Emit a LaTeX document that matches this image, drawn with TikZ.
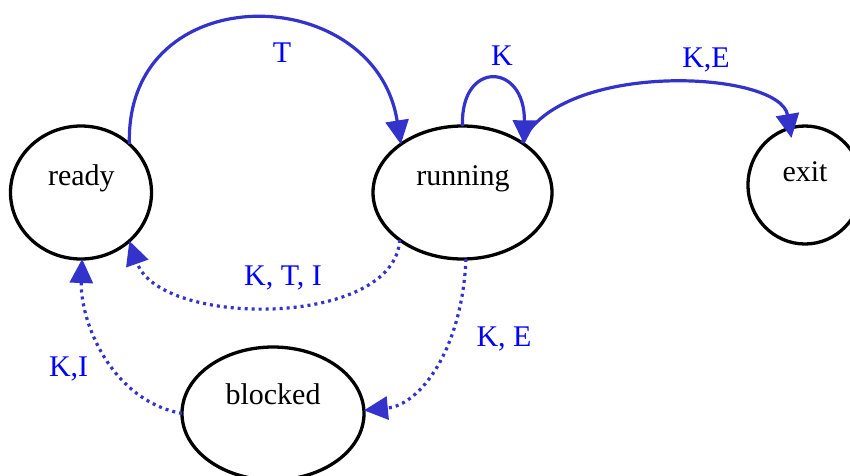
\documentclass[tikz,border=0pt]{standalone}
\usepackage{fontspec}
\setmainfont{Liberation Serif}
\usetikzlibrary{shapes.geometric,arrows.meta}
\definecolor{edgeblue}{RGB}{51,51,204}
\definecolor{lblblue}{RGB}{0,0,255}
\begin{document}
\begin{tikzpicture}[x=1pt,y=-1pt,
  state/.style={draw=black, line width=3.3pt, ellipse, inner sep=0pt, outer sep=0pt},
  edgeline/.style={draw=edgeblue, line width=3.2pt, -{Triangle[length=24pt,width=23pt]}},
  dotline/.style={edgeline, dash pattern=on 3pt off 4pt},
  lbl/.style={text=lblblue, font=\fontsize{30}{36}\selectfont, anchor=base, inner sep=0pt},
  ntext/.style={text=black, font=\fontsize{30}{36}\selectfont, anchor=base, inner sep=0pt}]
\useasboundingbox (0,0) rectangle (850,475);
\clip (0,0) rectangle (850,475);
% states
\node[state, minimum width=141pt, minimum height=133pt] (ready) at (81,192.5) {};
\node[state, minimum width=179pt, minimum height=133pt] (running) at (462.5,192.5) {};
\node[state, minimum width=114pt, minimum height=118pt] (exit) at (805,185) {};
\node[state, minimum width=182pt, minimum height=133pt] (blocked) at (273,413.5) {};
\node[ntext] (readyt) at (81.4,185) {ready};
\node[ntext] (runningt) at (463,185) {running};
\node[ntext] (exitt) at (805,181.7) {exit};
\node[ntext] (blockedt) at (273,404) {blocked};
% edges
\draw[edgeline] (ready.45) .. controls (125,-25) and (375,-20) .. (running.142);
\draw[edgeline] (running.90) .. controls (460,60) and (525,62) .. (running.38);
\draw[edgeline, shorten >=-10pt] (running.40) .. controls (560,60) and (780,70) .. (exit.105);
\draw[dotline] (running.217) .. controls (395,328) and (160,328) .. (ready.-45);
\draw[dotline] (running.-87) .. controls (462,350) and (420,405) .. (blocked.2);
\draw[dotline] (blocked.180) .. controls (110,400) and (80,320) .. (ready.-89);
% labels
\node[lbl] (lT) at (282,62) {T};
\node[lbl] (lK) at (502,65) {K};
\node[lbl] (lKE1) at (706,67.3) {K,E};
\node[lbl] (lKTI) at (283,285) {K, T, I};
\node[lbl] (lKE2) at (504,346.7) {K, E};
\node[lbl] (lKI) at (68.6,376.7) {K,I};
\end{tikzpicture}
\end{document}
